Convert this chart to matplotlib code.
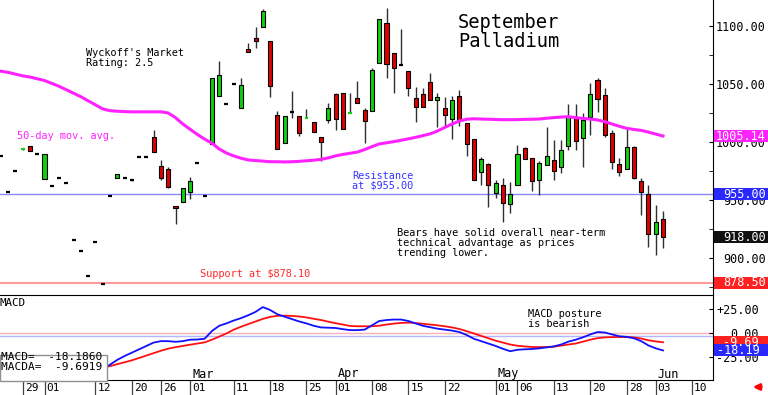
import numpy as np
import pandas as pd
import matplotlib
matplotlib.use("Agg")
import matplotlib.pyplot as plt
import matplotlib.transforms as mtransforms
from matplotlib.patches import Rectangle
from matplotlib.ticker import FixedLocator, MultipleLocator, FuncFormatter

# --- data (Sept palladium, daily, 2024) ---
first_day = "2024-01-24"
holidays = ["2024-02-19", "2024-03-29", "2024-05-27"]

opens = [988, 957, 975, 993.3, 996.6, 989.4, 967.8, 962, 969.3, 964.4,
         915.5, 906, 884.5, 913.5, 877.6, 953.7, 969.3, 969.3, 967, 987.4,
         987.4, 1004.6, 979.3, 976.7, 945, 948.5, 956.6, 981.6, 953.7, 998.3,
         1039.9, 1032.5, 1049.7, 1029.6, 1080.2, 1089.9, 1099.4, 1087, 1023.3, 999.4,
         1025.6, 1022.4, 1020.6, 1017.2, 1004.6, 1019, 1041.1, 1042.5, 1025, 1038.2,
         1027.6, 1026.7, 1068.4, 1102.3, 1077, 1066.4, 1061, 1037.7, 1041.4, 1051.7,
         1036.2, 1029.6, 1019.6, 1039.7, 1016.6, 1002.3, 974.2, 981, 955.8, 962.8,
         946.5, 962.9, 994.6, 986.5, 967.2, 980.5, 984.5, 978.7, 996.6, 1021.8,
         1003.7, 1021.8, 1053.4, 1040.5, 1008, 980.8, 976.7, 995.4, 966.4, 954.9,
         920.4, 933.4]
highs = [988, 957, 975, 994, 996.6, 989.4, 989.4, 962, 969.3, 964.4,
         915.5, 906, 884.5, 913.5, 877.6, 953.7, 972.4, 969.3, 967, 987.4,
         987.4, 1010.3, 984.5, 978.2, 945, 960, 969.6, 981.6, 953.7, 1055.4,
         1069.8, 1032.5, 1049.7, 1055.4, 1085.3, 1099.4, 1114.7, 1087, 1026.7, 1022.5,
         1044, 1022.4, 1028.2, 1017.2, 1004.6, 1033.4, 1042, 1042.5, 1042.5, 1052.6,
         1029, 1064, 1105.8, 1115.3, 1077, 1097.1, 1061, 1047.2, 1046.3, 1059.2,
         1042, 1038.5, 1040, 1044.8, 1016.6, 1002.3, 987.4, 982, 967, 968.7,
         965.8, 997.4, 996, 986.5, 984, 1012.5, 1001.7, 1001.7, 1032.5, 1032.5,
         1024.7, 1051.2, 1054.9, 1046.3, 1010, 986.5, 1013.2, 996.5, 969.3, 962.9,
         945.7, 940.5]
lows = [988, 957, 975, 993.3, 992, 989.4, 967.8, 962, 969.3, 964.4,
        915.5, 906, 884.5, 913.5, 877.6, 953.7, 969.3, 969.3, 966, 987.4,
        987.4, 991.6, 967.5, 960, 929, 948.5, 951, 981.6, 953.7, 998.3,
        1039.9, 1032.5, 1049.7, 1029.6, 1077.3, 1081.3, 1099.4, 1038.5, 994, 999.4,
        1021, 1005.2, 1020.6, 1008.6, 983.6, 1016.6, 1010.3, 1011, 1025, 1033.9,
        999.4, 1026.7, 1068.4, 1054.9, 1042.5, 1066.4, 1040, 1017.5, 1029.9, 1036.5,
        1013.2, 1013.2, 1002.3, 1014, 987.9, 967.5, 962.9, 944.2, 951.5, 931.3,
        938.5, 962.9, 985.1, 957.8, 954.3, 980.5, 967.2, 973, 993.1, 993,
        978.7, 1006, 1026, 1004.5, 976.5, 971, 976.7, 968, 937.1, 909.7,
        902.6, 908.4]
closes = [988, 957, 975, 994, 992, 989.4, 989.4, 962, 969.3, 964.4,
          915.5, 906, 884.5, 913.5, 877.6, 953.7, 972.4, 969.3, 967, 987.4,
          987.4, 991.6, 968.7, 961.5, 943, 960, 966.4, 981.6, 953.7, 1055.4,
          1057.8, 1032.5, 1049.7, 1049.1, 1077.3, 1087.3, 1112.9, 1048.3, 994, 1022.5,
          1025.6, 1008, 1021.2, 1008.6, 999.7, 1029, 1019.6, 1011, 1025.6, 1033.9,
          1018.1, 1062, 1105.8, 1067.2, 1063.5, 1066.4, 1046.8, 1029.9, 1029.9, 1036.5,
          1039, 1023.6, 1036.2, 1019, 998.2, 967.5, 985.2, 963, 964.4, 947,
          954.8, 989.4, 985.1, 966.4, 981.6, 988, 975.3, 993.1, 1021.8, 1000.9,
          1019, 1041.1, 1036.8, 1006, 982.5, 974.4, 995.4, 968.7, 956.6, 920.4,
          930.8, 918]
ma50 = [1061, 1060, 1058.5, 1057, 1056, 1054.5, 1053, 1050.5, 1048, 1045,
        1042, 1039, 1035.5, 1032, 1028.5, 1027, 1026.5, 1026.2, 1026, 1026,
        1026, 1026, 1026, 1025, 1021, 1015.5, 1011, 1006.5, 1002.5, 999,
        994, 990.5, 988, 986, 984.5, 984, 983.5, 983, 983, 982.8,
        983, 983.3, 983.8, 984.3, 985, 986.3, 988, 989.3, 990.3, 991.3,
        993.5, 996, 998.3, 999.3, 1000.3, 1001.5, 1002.7, 1004, 1005.5, 1007,
        1009.5, 1012.5, 1015.5, 1018, 1019.6, 1020, 1019.8, 1019.6, 1019.4, 1019.2,
        1019.2, 1019.3, 1019.5, 1019.6, 1019.8, 1020.5, 1021, 1021.5, 1021.8, 1021,
        1020.3, 1019.8, 1019, 1017.5, 1015.5, 1013.5, 1011.8, 1010.8, 1010, 1008.5,
        1006.8, 1005.14]

macd_start = "2024-02-13"
macd = [-38, -33, -28, -24, -20.5, -17, -13.5, -10, -8.5, -8.5,
        -9.2, -8.5, -7, -6.8, -6, 2, 7.5, 10, 13, 15.5,
        18.5, 22, 27, 24, 19.5, 17, 14.5, 12, 10, 7.5,
        5.8, 5.5, 5.2, 4, 3, 3, 3.5, 8, 12.5, 13.5,
        14, 14, 12.5, 10, 7.5, 6, 4.5, 3.5, 2.5, 1,
        -2, -6, -8.5, -11, -13.5, -16.5, -19, -17.5, -17, -16.7,
        -16, -15, -14, -12, -9, -7, -4.5, -1.5, 1, 0.5,
        -1.5, -3.4, -4, -5.5, -8.5, -13, -16, -18.19]
macd_avg = [-36, -34.5, -32.5, -30.5, -28.5, -26, -23.5, -21, -18.5, -16.3,
            -14.8, -13.5, -12.2, -11, -9.8, -7, -3.8, -0.5, 3.5, 6.5,
            9.3, 12, 14.7, 16.8, 17.9, 18.1, 17.8, 17.2, 16.2, 14.8,
            13.5, 11.8, 10.2, 8.8, 7.3, 7, 7, 7, 7.6, 8.8,
            9.8, 10.5, 10.8, 10.4, 9.6, 8.8, 8, 7, 5.8, 4.2,
            2, -0.5, -3, -5.5, -8, -10, -12, -13.3, -14, -14.6,
            -14.7, -14.6, -14.2, -13.2, -12, -11, -9, -7, -5.4, -4.6,
            -4.3, -4.2, -4.3, -4.6, -5.8, -7.6, -8.8, -9.69]

tick_dates = ["2024-01-29", "2024-02-01", "2024-02-12", "2024-02-20", "2024-02-26",
              "2024-03-01", "2024-03-11", "2024-03-18", "2024-03-25", "2024-04-01",
              "2024-04-08", "2024-04-15", "2024-04-22", "2024-05-01", "2024-05-06",
              "2024-05-13", "2024-05-20", "2024-05-28", "2024-06-03", "2024-06-10"]
tick_labels = ["29", "01", "12", "20", "26", "01", "11", "18", "25", "01",
               "08", "15", "22", "01", "06", "13", "20", "28", "03", "10"]
month_dates = ["2024-03-01", "2024-04-01", "2024-05-01", "2024-06-03"]
month_labels = ["Mar", "Apr", "May", "Jun"]

resistance = 955.00
support = 878.50
last_close = 918.00
last_ma = 1005.14
macd_last = -18.1860
macda_last = -9.6919

# --- setup ---
plt.rcParams["font.family"] = ["DejaVu Sans Mono"]
W, H = 768, 395
GREEN, RED, MAG, BLUE = "#10d010", "#e00000", "#ff22ff", "#2828ff"

days = pd.bdate_range(first_day, "2024-06-28", freq="C", holidays=holidays)
pos = {d.strftime("%Y-%m-%d"): i for i, d in enumerate(days)}

fig = plt.figure(figsize=(W / 100, H / 100), dpi=100)
ax = fig.add_axes([0, (H - 295) / H, 713 / W, 295 / H])
ax2 = fig.add_axes([0, (H - 380) / H, 713 / W, 85 / H], sharex=ax)


def fx(x):
    return x / W


def fy(y):
    return 1 - y / H


# candles
for i, (o, h, l, c) in enumerate(zip(opens, highs, lows, closes)):
    ax.vlines(i, l, h, color="#303030", lw=1, zorder=2)
    if abs(c - o) < 1.5:
        col = GREEN if c > o else (RED if c < o else "black")
        ax.hlines((o + c) / 2, i - 0.27, i + 0.27, color=col, lw=1.6, zorder=3)
    else:
        ax.add_patch(Rectangle((i - 0.28, min(o, c)), 0.56, abs(c - o),
                               fc=GREEN if c > o else RED, ec="black", lw=0.8, zorder=3))

ax.plot(range(len(ma50)), ma50, color=MAG, lw=2.2, zorder=4)
ax.axhline(resistance, color="#8888ff", lw=1, zorder=1)
ax.axhline(support, color="#ff9a9a", lw=1.5, zorder=1)

ax.set_xlim(-0.12, 97.87)
ax.set_ylim(868.1, 1122.4)
for s in ["top", "left", "bottom"]:
    ax.spines[s].set_visible(False)
ax.yaxis.tick_right()
ax.yaxis.set_major_locator(FixedLocator([900, 950, 1000, 1050, 1100]))
ax.yaxis.set_minor_locator(MultipleLocator(25))
ax.yaxis.set_major_formatter(FuncFormatter(lambda v, p: f"{v:.2f}"))
ax.tick_params(axis="y", which="both", direction="in", length=3, pad=38, labelsize=8.5)
for lab in ax.get_yticklabels():
    lab.set_horizontalalignment("right")
ax.tick_params(axis="x", which="both", bottom=False, labelbottom=False)

# MACD panel
mx = np.arange(len(macd)) + pos[macd_start]
ax2.axhline(0, color="#ffb0b0", lw=1, zorder=1)
ax2.axhline(-3.1, color="#b4b4ff", lw=1, zorder=1)
ax2.plot(mx, macd_avg, color="#ff1010", lw=1.3, zorder=3)
ax2.plot(mx, macd, color="#1010ff", lw=1.3, zorder=3)
ax2.set_ylim(-49.0, 39.6)
ax2.spines["left"].set_visible(False)
ax2.yaxis.tick_right()
ax2.yaxis.set_major_locator(FixedLocator([-25, 0, 25]))
ax2.yaxis.set_major_formatter(FuncFormatter(lambda v, p: f"{v:+.2f}" if v > 0 else f"{v:.2f}"))
ax2.tick_params(axis="y", direction="in", length=3, pad=33, labelsize=8.5)
for lab in ax2.get_yticklabels():
    lab.set_horizontalalignment("right")

tick_idx = [pos[d] for d in tick_dates]
ax2.set_xticks(tick_idx)
ax2.tick_params(axis="x", direction="out", length=11, width=0.9, color="#444444", labelbottom=False)
below = ax2.get_xaxis_transform() + mtransforms.ScaledTranslation(2 / 100, -8 / 100, fig.dpi_scale_trans)
for t, lab in zip(tick_idx, tick_labels):
    ax2.text(t, 0, lab, transform=below, ha="left", va="center", fontsize=8, clip_on=False)
inside = ax2.get_xaxis_transform() + mtransforms.ScaledTranslation(2 / 100, 6 / 100, fig.dpi_scale_trans)
for d, lab in zip(month_dates, month_labels):
    ax2.text(pos[d], 0, lab, transform=inside, ha="left", va="center", fontsize=8.5)


# value tags on the right scale
def value_tag(axis, value, text, fc, right_px):
    trans = mtransforms.blended_transform_factory(fig.transFigure, axis.transData)
    h = 12 / (axis.bbox.height / (axis.get_ylim()[1] - axis.get_ylim()[0]))
    axis.add_patch(Rectangle((714 / W, value - h / 2), (W - 714) / W, h, transform=trans,
                             fc=fc, ec="none", clip_on=False, zorder=6))
    axis.text(right_px / W, value, text, transform=trans, ha="right", va="center",
              color="white", fontsize=8.5, clip_on=False, zorder=7)


value_tag(ax, last_ma, f"{last_ma:.2f}", MAG, 766)
value_tag(ax, resistance, f"{resistance:.2f}", BLUE, 766)
value_tag(ax, last_close, f"{last_close:.2f}", "#111111", 766)
value_tag(ax, support, f"{support:.2f}", "#ff2020", 766)
value_tag(ax2, macda_last, f"{macda_last:.2f}", "#ff2020", 759)
value_tag(ax2, macd_last, f"{macd_last:.2f}", BLUE, 760)

# annotations
fig.text(fx(458), fy(13), "September\nPalladium", fontsize=13.5, va="top", linespacing=1.0)
fig.text(fx(86), fy(58.5), "Wyckoff's Market\nRating: 2.5", fontsize=7.4, va="center", linespacing=1.0)
fig.text(fx(17), fy(136), "50-day mov. avg.", fontsize=7.4, va="center", color=MAG)
fig.text(fx(352), fy(181), "Resistance\nat $955.00", fontsize=7.4, va="center", color="#3535ff", linespacing=1.0)
fig.text(fx(397), fy(243), "Bears have solid overall near-term\ntechnical advantage as prices\ntrending lower.",
         fontsize=7.4, va="center", linespacing=0.95)
fig.text(fx(200), fy(274), "Support at $878.10", fontsize=7.4, va="center", color="#ff2a2a")
fig.text(fx(528), fy(319), "MACD posture\nis bearish", fontsize=7.4, va="center", linespacing=1.0)
fig.text(fx(0), fy(303), "MACD", fontsize=7.8, va="center")

fig.patches.append(Rectangle((fx(0), fy(381)), fx(107), 26 / H, transform=fig.transFigure,
                             fc="white", ec="#909090", lw=1, zorder=5))
fig.text(fx(1), fy(361.5), f"MACD=  {macd_last:.4f}\nMACDA=  {macda_last:.4f}", fontsize=8.0,
         va="center", linespacing=1.0, zorder=6)

fig.add_artist(matplotlib.patches.FancyArrowPatch((764, 8), (750, 8), transform=None,
                                                  arrowstyle="-|>", mutation_scale=9, color="red", lw=2))

fig.savefig("out.png", dpi=100)
